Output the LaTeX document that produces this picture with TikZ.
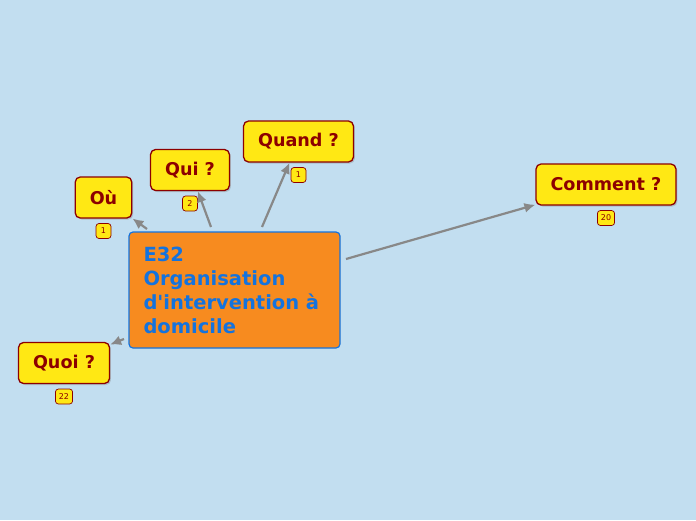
\documentclass[tikz,border=0pt]{standalone}
\usepackage{fontspec}
\setmainfont{DejaVu Sans}[Ligatures=TeXOff]
\usetikzlibrary{arrows.meta,positioning,shadows}

\definecolor{bgblue}{RGB}{194,222,240}
\definecolor{topicorange}{RGB}{247,139,31}
\definecolor{topicblue}{RGB}{20,115,222}
\definecolor{qyellow}{RGB}{255,232,20}
\definecolor{qred}{RGB}{140,0,0}
\definecolor{linkgray}{RGB}{136,136,136}

\tikzset{
  topic/.style={draw=topicblue, line width=1.2pt, fill=topicorange, rounded corners=4pt,
    minimum width=211pt, minimum height=116pt, text width=182pt, inner xsep=14.5pt, align=left,
    text=topicblue, font=\fontsize{19.5}{24}\selectfont\bfseries},
  question/.style={draw=qred, line width=1.3pt, fill=qyellow, rounded corners=5pt,
    minimum height=41pt, inner xsep=14.5pt, text=qred,
    font=\fontsize{17.6}{20}\selectfont\bfseries,
    drop shadow={shadow xshift=1.5pt, shadow yshift=-1.5pt, opacity=0.35}},
  badge/.style={draw=qred, line width=0.7pt, fill=qyellow, rounded corners=3pt,
    minimum height=15pt, minimum width=15pt, inner xsep=3.5pt, inner ysep=0pt, text=qred,
    font=\fontsize{8}{9}\selectfont},
  link/.style={draw=linkgray, line width=2.2pt, -{Latex[length=11pt,width=10pt]}}
}

\begin{document}
\begin{tikzpicture}[x=1pt,y=-1pt]
  \fill[bgblue] (0,0) rectangle (696,520);
  \useasboundingbox (0,0) rectangle (696,520);

  % main topic
  \node[topic] (e32) at (234.5,290) {E32\\Organisation\\d'intervention à\\domicile};

  % questions
  \node[question] (ou) at (103.5,197.5) {Où};
  \node[question] (qui) at (190,170) {Qui ?};
  \node[question] (quand) at (298.5,141.5) {Quand ?};
  \node[question] (comment) at (606,184.5) {Comment ?};
  \node[question] (quoi) at (64,363) {Quoi ?};

  % counters
  \node[badge, below=4.5pt of ou] (ou-n) {1};
  \node[badge, below=4.5pt of qui] (qui-n) {2};
  \node[badge, below=4.5pt of quand] (quand-n) {1};
  \node[badge, below=4.5pt of comment] (comment-n) {20};
  \node[badge, below=4.5pt of quoi] (quoi-n) {22};

  % links
  \coordinate (ou-s) at (147,229);
  \coordinate (qui-s) at (211,227);
  \coordinate (quand-s) at (262,227);
  \coordinate (comment-s) at (346,259);
  \coordinate (quoi-s) at (124,339);
  \foreach \q in {ou,qui,quand,comment,quoi}
    \draw[link] (\q-s) -- (\q);
\end{tikzpicture}
\end{document}
